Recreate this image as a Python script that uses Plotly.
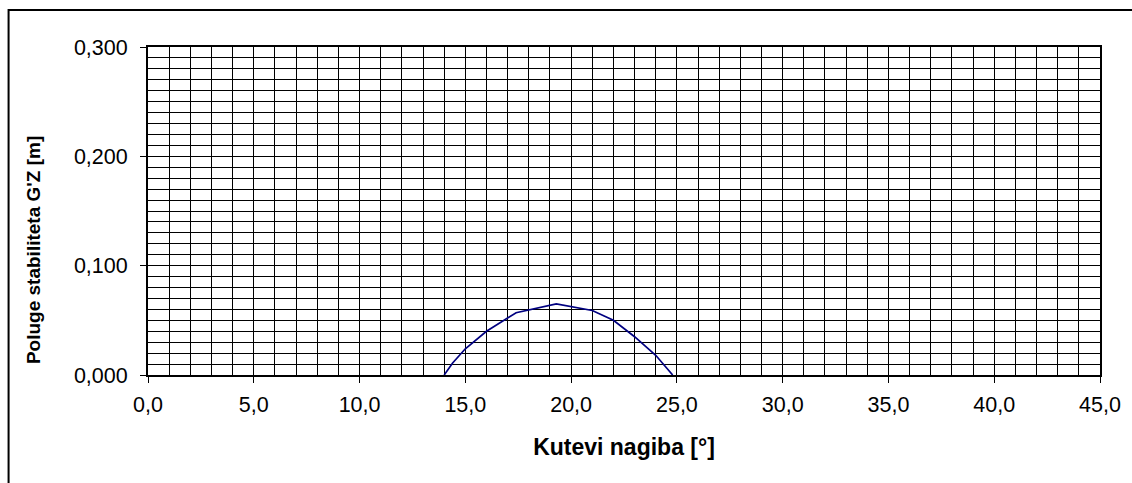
import plotly.graph_objects as go

angles = [14.0, 14.4, 15.0, 16.0, 17.4, 19.3, 21.0, 22.0, 23.0, 24.0, 24.8]
gz = [0.000, 0.011, 0.024, 0.040, 0.057, 0.065, 0.059, 0.050, 0.035, 0.018, 0.000]

x_title = "Kutevi nagiba [°]"
y_title = "Poluge stabiliteta G'Z [m]"

W, H = 1132, 483
L, R, T, B = 147.5, 32, 47, 108
pw, ph = W - L - R, H - T - B

fig = go.Figure()
fig.add_trace(go.Scatter(x=angles, y=gz, mode="lines",
                         line=dict(color="#000080", width=1.7), showlegend=False))

font = "Liberation Sans, Arial, sans-serif"
fig.update_layout(
    width=W, height=H,
    margin=dict(l=L, r=R, t=T, b=B),
    paper_bgcolor="white", plot_bgcolor="white",
    separators=", ",
    font=dict(family=font, color="black", size=21.5),
    xaxis=dict(range=[0, 45], dtick=5, tick0=0, tickformat=".1f",
               showgrid=True, gridcolor="black", gridwidth=1,
               minor=dict(dtick=1, showgrid=True, gridcolor="black", gridwidth=1, ticks=""),
               ticks="outside", ticklen=6, tickcolor="black", tickwidth=1,
               showline=True, linecolor="black", linewidth=2, mirror=True,
               zeroline=False, ticklabelstandoff=3,
               title=dict(text="<b>" + x_title + "</b>", font=dict(size=23), standoff=23)),
    yaxis=dict(range=[0, 0.3], dtick=0.1, tick0=0, tickformat=".3f",
               showgrid=True, gridcolor="black", gridwidth=1,
               minor=dict(dtick=0.01, showgrid=True, gridcolor="black", gridwidth=1, ticks=""),
               ticks="outside", ticklen=6, tickcolor="black", tickwidth=1,
               showline=True, linecolor="black", linewidth=2, mirror=True,
               zeroline=False, ticklabelstandoff=8),
)

# y-axis title (Excel centres it on the chart area, not on the plot area)
fig.add_annotation(text="<b>" + y_title + "</b>", textangle=-90, showarrow=False,
                   xref="paper", yref="paper",
                   x=(32.5 - L) / pw, y=1 - (250 - T) / ph,
                   xanchor="center", yanchor="middle", font=dict(size=19))

# outer chart border (extends beyond right and bottom of the image)
x0 = (8 - L) / pw
x1 = (W + 6 - L) / pw
y1 = 1 + (T - 10) / ph
y0 = -(H + 6 - (T + ph)) / ph
fig.add_shape(type="rect", xref="paper", yref="paper", x0=x0, x1=x1, y0=y0, y1=y1,
              line=dict(color="black", width=2), layer="above")

fig.write_html("out.html", config={"displayModeBar": False},
               post_script="document.body.style.margin='0';")
